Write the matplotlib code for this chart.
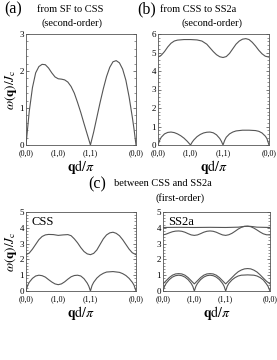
import numpy as np
import matplotlib
matplotlib.use("Agg")
import matplotlib.pyplot as plt

plt.rcParams['font.family'] = ['Liberation Serif', 'DejaVu Serif']
plt.rcParams['mathtext.fontset'] = 'stix'

S2 = 2 + np.sqrt(2)
tick_pos = [0, 1, 2, S2]
tick_labels = ['(0,0)', '(1,0)', '(1,1)', '(0,0)']

# ---- panel (a): SF -> CSS
a_x = [0, 0.05, 0.1, 0.2, 0.3, 0.4, 0.5, 0.6, 0.7, 0.8, 0.9, 1.0, 1.1, 1.2, 1.3, 1.4,
       1.5, 1.6, 1.7, 1.8, 1.9, 2.0, 2.1, 2.2, 2.3, 2.4, 2.5, 2.6, 2.7, 2.8, 2.9, 3.0,
       3.1, 3.2, 3.3, 3.35, S2]
a_y = [0, 0.45, 0.9, 1.55, 1.95, 2.12, 2.18, 2.17, 2.08, 1.95, 1.84, 1.79, 1.78, 1.76,
       1.70, 1.58, 1.40, 1.15, 0.88, 0.58, 0.29, 0, 0.35, 0.75, 1.15, 1.52, 1.85, 2.10,
       2.25, 2.28, 2.22, 2.05, 1.75, 1.30, 0.75, 0.45, 0]

# ---- panel (b): CSS -> SS2a
b_up_x = [0, 0.1, 0.2, 0.3, 0.4, 0.5, 0.6, 0.8, 1.0, 1.2, 1.35, 1.5, 1.6, 1.7, 1.8, 1.9,
          2.0, 2.1, 2.2, 2.3, 2.4, 2.5, 2.6, 2.7, 2.8, 2.9, 3.0, 3.1, 3.2, 3.3, S2]
b_up_y = [4.75, 4.85, 5.05, 5.3, 5.5, 5.62, 5.67, 5.70, 5.70, 5.68, 5.62, 5.45, 5.25,
          5.05, 4.88, 4.77, 4.73, 4.78, 4.95, 5.2, 5.45, 5.62, 5.72, 5.75, 5.7, 5.55,
          5.35, 5.12, 4.93, 4.80, 4.75]
b_lo_x = [0, 0.05, 0.1, 0.2, 0.3, 0.4, 0.5, 0.6, 0.7, 0.8, 0.9, 1.0, 1.05, 1.1, 1.2, 1.3,
          1.4, 1.5, 1.6, 1.7, 1.8, 1.9, 1.95, 2.0, 2.05, 2.1, 2.2, 2.3, 2.4, 2.6, 2.8,
          3.0, 3.1, 3.2, 3.3, 3.35, S2]
b_lo_y = [0, 0.25, 0.42, 0.6, 0.68, 0.7, 0.67, 0.6, 0.5, 0.37, 0.2, 0, 0.15, 0.27, 0.45,
          0.57, 0.65, 0.69, 0.7, 0.66, 0.55, 0.35, 0.2, 0, 0.25, 0.42, 0.6, 0.7, 0.76,
          0.8, 0.8, 0.78, 0.74, 0.65, 0.48, 0.35, 0]

# ---- panel (c): CSS side
css_up_x = [0, 0.1, 0.2, 0.3, 0.4, 0.5, 0.6, 0.7, 0.85, 1.0, 1.15, 1.3, 1.4, 1.5, 1.6,
            1.7, 1.8, 1.9, 2.0, 2.1, 2.2, 2.3, 2.4, 2.5, 2.6, 2.7, 2.8, 2.9, 3.0, 3.1,
            3.2, 3.3, S2]
css_up_y = [2.3, 2.4, 2.65, 2.95, 3.25, 3.45, 3.55, 3.58, 3.57, 3.52, 3.55, 3.57, 3.5,
            3.3, 3.05, 2.75, 2.5, 2.35, 2.3, 2.38, 2.6, 2.95, 3.3, 3.55, 3.68, 3.72, 3.65,
            3.5, 3.25, 2.95, 2.65, 2.42, 2.3]
css_lo_x = [0, 0.05, 0.1, 0.2, 0.3, 0.4, 0.5, 0.6, 0.7, 0.8, 0.9, 1.0, 1.1, 1.2, 1.3,
            1.4, 1.5, 1.6, 1.7, 1.8, 1.9, 1.95, 2.0, 2.05, 2.1, 2.2, 2.3, 2.4, 2.5, 2.7,
            2.9, 3.0, 3.1, 3.2, 3.3, 3.35, S2]
css_lo_y = [0, 0.35, 0.55, 0.8, 0.95, 1.0, 0.97, 0.88, 0.72, 0.57, 0.45, 0.4, 0.45, 0.58,
            0.75, 0.9, 0.98, 1.0, 0.95, 0.78, 0.5, 0.3, 0, 0.35, 0.55, 0.82, 1.0, 1.12,
            1.2, 1.23, 1.18, 1.1, 0.98, 0.8, 0.55, 0.38, 0]

# ---- panel (c): SS2a side
ss_top_x = [0, 0.5, 1.0, 1.5, 2.0, 2.4, 2.6, 2.7, 2.8, 3.0, S2]
ss_top_y = [4.02, 4.03, 4.02, 4.03, 4.02, 4.04, 4.09, 4.1, 4.09, 4.04, 4.02]
ss_2_x = [0, 0.1, 0.2, 0.3, 0.4, 0.5, 0.6, 0.7, 0.8, 0.9, 1.0, 1.1, 1.2, 1.3, 1.4, 1.5,
          1.6, 1.7, 1.8, 1.9, 2.0, 2.1, 2.2, 2.3, 2.4, 2.5, 2.6, 2.7, 2.8, 2.9, 3.0, 3.1,
          3.2, 3.3, S2]
ss_2_y = [3.55, 3.6, 3.68, 3.75, 3.79, 3.8, 3.78, 3.72, 3.63, 3.55, 3.52, 3.55, 3.63,
          3.72, 3.78, 3.8, 3.78, 3.72, 3.63, 3.55, 3.52, 3.56, 3.65, 3.78, 3.92, 4.03,
          4.09, 4.1, 4.07, 3.98, 3.86, 3.73, 3.62, 3.56, 3.55]
ss_3_x = [0, 0.1, 0.2, 0.3, 0.4, 0.5, 0.6, 0.7, 0.8, 0.9, 1.0, 1.1, 1.2, 1.3, 1.4, 1.5,
          1.6, 1.7, 1.8, 1.9, 2.0, 2.1, 2.2, 2.3, 2.4, 2.5, 2.6, 2.7, 2.8, 2.9, 3.0, 3.1,
          3.2, 3.3, S2]
ss_3_y = [0.45, 0.65, 0.85, 1.0, 1.08, 1.1, 1.08, 1.0, 0.85, 0.65, 0.45, 0.65, 0.85,
          1.0, 1.08, 1.1, 1.08, 1.0, 0.85, 0.65, 0.45, 0.65, 0.85, 1.05, 1.22, 1.33, 1.4,
          1.42, 1.4, 1.32, 1.2, 1.02, 0.82, 0.62, 0.45]
ss_4_x = [0, 0.05, 0.1, 0.2, 0.3, 0.4, 0.5, 0.6, 0.7, 0.8, 0.9, 0.95, 1.0, 1.05, 1.1,
          1.2, 1.3, 1.4, 1.5, 1.6, 1.7, 1.8, 1.9, 1.95, 2.0, 2.05, 2.1, 2.2, 2.3, 2.4,
          2.5, 2.7, 2.9, 3.0, 3.1, 3.2, 3.3, 3.35, S2]
ss_4_y = [0, 0.3, 0.48, 0.72, 0.88, 0.97, 1.0, 0.97, 0.88, 0.72, 0.48, 0.3, 0, 0.3, 0.48,
          0.72, 0.88, 0.97, 1.0, 0.97, 0.88, 0.72, 0.48, 0.3, 0, 0.3, 0.48, 0.7, 0.85,
          0.95, 1.0, 1.02, 1.0, 0.95, 0.85, 0.7, 0.45, 0.3, 0]

LC = '#555555'
LW = 0.8

fig = plt.figure(figsize=(2.77, 3.60), dpi=100)

def W(px): return px / 277
def H(px): return px / 360

def style(ax, ymax, ylabel=True):
    ax.set_xlim(0, S2)
    ax.set_ylim(0, ymax)
    ax.set_xticks(tick_pos)
    ax.set_xticklabels(tick_labels, fontsize=5.8)
    ax.set_yticks(range(0, ymax + 1))
    ax.set_yticks(np.arange(0, ymax + 0.01, 0.2), minor=True)
    ax.tick_params(axis='y', which='major', direction='in', length=2.5, width=0.5,
                   labelsize=6.5, pad=1.5, right=True, colors='#444444', labelcolor='black')
    ax.tick_params(axis='y', which='minor', direction='in', length=1.2, width=0.4,
                   right=True, colors='#444444')
    ax.tick_params(axis='x', which='major', direction='in', length=0, pad=3.2,
                   labelsize=5.8)
    for sp in ax.spines.values():
        sp.set_color('#555555')
        sp.set_linewidth(0.6)
    ax.set_xlabel(r'$\mathbf{q}\mathrm{d}/\pi$', fontsize=10, labelpad=0.5)
    if ylabel:
        ax.set_ylabel(r'$\omega(\mathbf{q})/J_{\rm c}$', fontsize=9.5, labelpad=0.5)

axa = fig.add_axes([W(26), 1 - H(145), W(110), H(111)])
axa.plot(a_x, a_y, color=LC, lw=LW)
style(axa, 3)

axb = fig.add_axes([W(158), 1 - H(145), W(111), H(111)])
axb.plot(b_up_x, b_up_y, color=LC, lw=LW)
axb.plot(b_lo_x, b_lo_y, color=LC, lw=LW)
style(axb, 6, ylabel=False)

axc = fig.add_axes([W(26), 1 - H(291), W(110), H(79)])
axc.plot(css_up_x, css_up_y, color=LC, lw=LW)
axc.plot(css_lo_x, css_lo_y, color=LC, lw=LW)
style(axc, 5)
axc.text(0.05, 0.95, 'CSS', transform=axc.transAxes, ha='left', va='top', fontsize=9)

axd = fig.add_axes([W(163), 1 - H(291), W(107), H(79)])
for xs, ys in [(ss_top_x, ss_top_y), (ss_2_x, ss_2_y), (ss_3_x, ss_3_y), (ss_4_x, ss_4_y)]:
    axd.plot(xs, ys, color=LC, lw=LW)
style(axd, 5, ylabel=False)
axd.text(0.05, 0.95, 'SS2a', transform=axd.transAxes, ha='left', va='top', fontsize=9)

# titles
fig.text(W(4), 1 - H(9), '(a)', fontsize=11.5, ha='left', va='center')
fig.text(W(70), 1 - H(9), 'from SF to CSS', fontsize=7.5, ha='center', va='center')
fig.text(W(72), 1 - H(23), '(second-order)', fontsize=7.5, ha='center', va='center')
fig.text(W(137), 1 - H(9), '(b)', fontsize=11.5, ha='left', va='center')
fig.text(W(198), 1 - H(9), 'from CSS to SS2a', fontsize=7.5, ha='center', va='center')
fig.text(W(212), 1 - H(23), '(second-order)', fontsize=7.5, ha='center', va='center')
fig.text(W(88), 1 - H(184), '(c)', fontsize=11.5, ha='left', va='center')
fig.text(W(163), 1 - H(184), 'between CSS and SS2a', fontsize=7.5, ha='center', va='center')
fig.text(W(180), 1 - H(198), '(first-order)', fontsize=7.5, ha='center', va='center')

fig.savefig('out.png', dpi=100)
